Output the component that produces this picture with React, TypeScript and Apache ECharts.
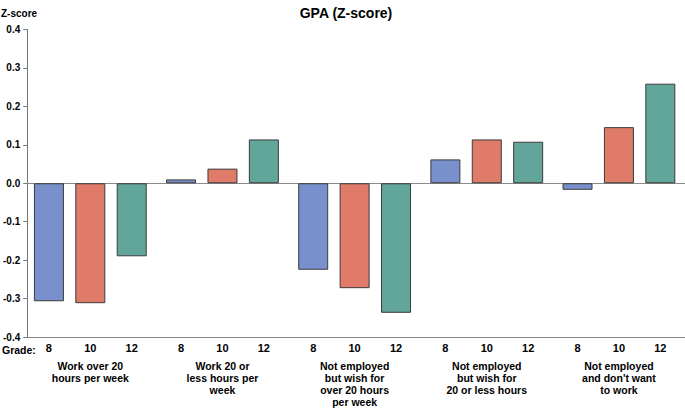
import React, { useEffect, useRef } from "react";
import * as echarts from "echarts";

const groups = [
  "Work over 20\nhours per week",
  "Work 20 or\nless hours per\nweek",
  "Not employed\nbut wish for\nover 20 hours\nper week",
  "Not employed\nbut wish for\n20 or less hours",
  "Not employed\nand don't want\nto work",
];
const grades = ["8", "10", "12"];
const grade8 = [-0.307, 0.01, -0.225, 0.062, -0.017];
const grade10 = [-0.312, 0.038, -0.273, 0.114, 0.146];
const grade12 = [-0.19, 0.114, -0.337, 0.108, 0.259];
const yTicks = { min: -0.4, max: 0.4, interval: 0.1 };
const colors = ["#7890cc", "#e07b6a", "#62a59a"];

const FONT = "'Liberation Sans', Arial, sans-serif";

export default function App() {
  const ref = useRef<HTMLDivElement>(null);
  useEffect(() => {
    if (!ref.current) return;
    const chart = echarts.init(ref.current, null, { renderer: "svg" });
    const values = [grade8, grade10, grade12];
    const barSeries = values.map((v, i) => ({
      type: "bar",
      name: grades[i],
      xAxisIndex: 0,
      data: v,
      barWidth: 30,
      barGap: "38%",
      itemStyle: { color: colors[i], borderColor: "#3a3a3a", borderWidth: 1 },
      silent: true,
    }));
    const labelSeries = grades.map((g) => ({
      type: "bar",
      xAxisIndex: 1,
      data: groups.map(() => yTicks.min),
      barWidth: 30,
      barGap: "38%",
      itemStyle: { color: "rgba(0,0,0,0)" },
      silent: true,
      z: 0,
      label: {
        show: true,
        position: "bottom",
        distance: 5,
        formatter: g,
        fontFamily: FONT,
        fontWeight: "bold",
        fontSize: 11,
        color: "#000",
      },
    }));
    chart.setOption({
      animation: false,
      textStyle: { fontFamily: FONT },
      title: {
        text: "GPA (Z-score)",
        left: 341,
        textAlign: "center",
        top: 1,
        textStyle: { fontFamily: FONT, fontWeight: "bold", fontSize: 14, color: "#000" },
      },
      graphic: [
        {
          type: "text",
          left: 1,
          top: 8,
          style: { text: "Z-score", font: `bold 10px ${FONT}`, fill: "#000" },
        },
        {
          type: "text",
          left: 2,
          top: 344,
          style: { text: "Grade:", font: `bold 10.5px ${FONT}`, fill: "#000" },
        },
      ],
      grid: { left: 23, top: 29.5, width: 665, height: 309.5 },
      xAxis: [
        {
          type: "category",
          data: groups,
          position: "bottom",
          axisLine: { onZero: false, lineStyle: { color: "#8a8a8a", width: 1 } },
          axisTick: { show: false },
          axisLabel: {
            interval: 0,
            margin: 23,
            fontFamily: FONT,
            fontWeight: "bold",
            fontSize: 10.5,
            lineHeight: 12,
            color: "#000",
          },
        },
        {
          type: "category",
          data: groups,
          position: "bottom",
          axisLine: { onZero: true, lineStyle: { color: "#8a8a8a", width: 1 } },
          axisTick: { show: false },
          axisLabel: { show: false },
        },
      ],
      yAxis: {
        type: "value",
        min: yTicks.min,
        max: yTicks.max,
        interval: yTicks.interval,
        offset: -3,
        axisLine: { show: true, lineStyle: { color: "#777", width: 1 } },
        axisTick: { show: true, length: 4, lineStyle: { color: "#777" } },
        splitLine: { show: false },
        axisLabel: {
          margin: 7,
          formatter: (v: number) => v.toFixed(1),
          fontFamily: FONT,
          fontWeight: "bold",
          fontSize: 10,
          color: "#000",
        },
      },
      series: [...labelSeries, ...barSeries],
    });
    return () => chart.dispose();
  }, []);
  return (
    <div
      ref={ref}
      style={{ position: "fixed", left: 0, top: 0, width: 685, height: 408, background: "#fff" }}
    />
  );
}
